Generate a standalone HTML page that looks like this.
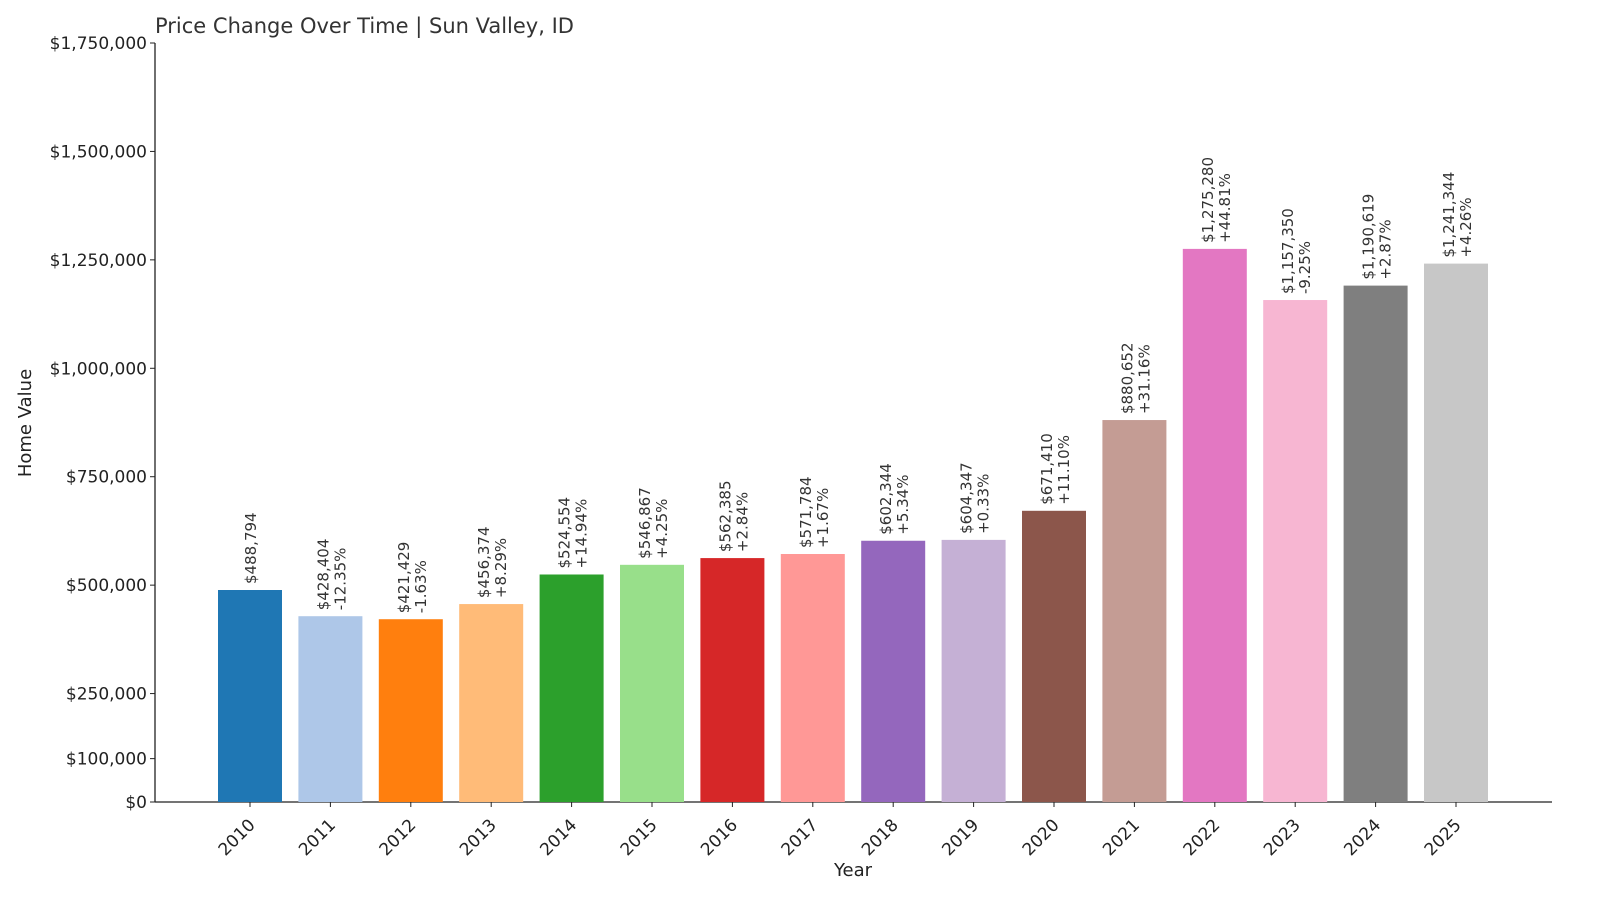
<!DOCTYPE html>
<html><head><meta charset="utf-8"><style>
body{margin:0;background:#fff}
svg{display:block;font-family:"DejaVu Sans","Liberation Sans",sans-serif}
</style></head><body>
<svg id="chart" width="1600" height="914" viewBox="0 0 1600 914">
<text x="155" y="33" font-size="21" fill="#333">Price Change Over Time | Sun Valley, ID</text>
<g id="axes"></g>
<g id="bars"></g>
<text x="853" y="876" font-size="18" text-anchor="middle" fill="#222">Year</text>
<text transform="translate(31,423) rotate(-90)" font-size="18" text-anchor="middle" fill="#222">Home Value</text>
</svg>
<script>
const years=["2010","2011","2012","2013","2014","2015","2016","2017","2018","2019","2020","2021","2022","2023","2024","2025"];
const values=[488794,428404,421429,456374,524554,546867,562385,571784,602344,604347,671410,880652,1275280,1157350,1190619,1241344];
const pcts=["","-12.35%","-1.63%","+8.29%","+14.94%","+4.25%","+2.84%","+1.67%","+5.34%","+0.33%","+11.10%","+31.16%","+44.81%","-9.25%","+2.87%","+4.26%"];
const colors=["#1f77b4","#aec7e8","#ff7f0e","#ffbb78","#2ca02c","#98df8a","#d62728","#ff9896","#9467bd","#c5b0d5","#8c564b","#c49c94","#e377c2","#f7b6d2","#7f7f7f","#c7c7c7"];
const yTicks=[0,100000,250000,500000,750000,1000000,1250000,1500000,1750000];
const NS="http://www.w3.org/2000/svg";
const L=155,R=1552,T=43,B=802,YMAX=1750000;
const y=v=>B-(v/YMAX)*(B-T);
const x=i=>250+i*80.4;
const bw=64;
function el(t,a,p){const e=document.createElementNS(NS,t);for(const k in a)e.setAttribute(k,a[k]);p.appendChild(e);return e;}
const ax=document.getElementById('axes'),bg=document.getElementById('bars');
const yl=el('line',{x1:L,y1:T,x2:L,y2:B,stroke:'#222','stroke-width':1.3},ax);


const xl=el('line',{x1:L,y1:B,x2:R,y2:B,stroke:'#222','stroke-width':1.3},ax);


yTicks.forEach(v=>{
 el('line',{x1:L-5,y1:y(v),x2:L,y2:y(v),stroke:'#222'},ax);
 const t=el('text',{x:L-8,y:y(v)+6,'font-size':17,'text-anchor':'end',fill:'#222'},ax);
 t.textContent='$'+v.toLocaleString('en-US');
 
 
});
values.forEach((v,i)=>{
 const cx=x(i);
 const r=el('rect',{x:cx-bw/2,y:y(v),width:bw,height:B-y(v),fill:colors[i]},bg);
 
 
 el('line',{x1:cx,y1:B,x2:cx,y2:B+5,stroke:'#222'},ax);
 const yt=el('text',{transform:`translate(${cx+6},${B+24}) rotate(-45)`,'font-size':17,'text-anchor':'end',fill:'#222'},ax);
 yt.textContent=years[i];
 
 
 const top=y(v)-6;
 const money='$'+v.toLocaleString('en-US');
 if(pcts[i]){
  const a=el('text',{transform:`translate(${cx-2},${top}) rotate(-90)`,'font-size':15,fill:'#333'},bg);
  a.textContent=money;
  
  
  const b=el('text',{transform:`translate(${cx+15},${top}) rotate(-90)`,'font-size':15,fill:'#333'},bg);
  b.textContent=pcts[i];
  
  
 }else{
  const a=el('text',{transform:`translate(${cx+6},${top}) rotate(-90)`,'font-size':15,fill:'#333'},bg);
  a.textContent=money;
  
  
 }
});
</script>
</body></html>
